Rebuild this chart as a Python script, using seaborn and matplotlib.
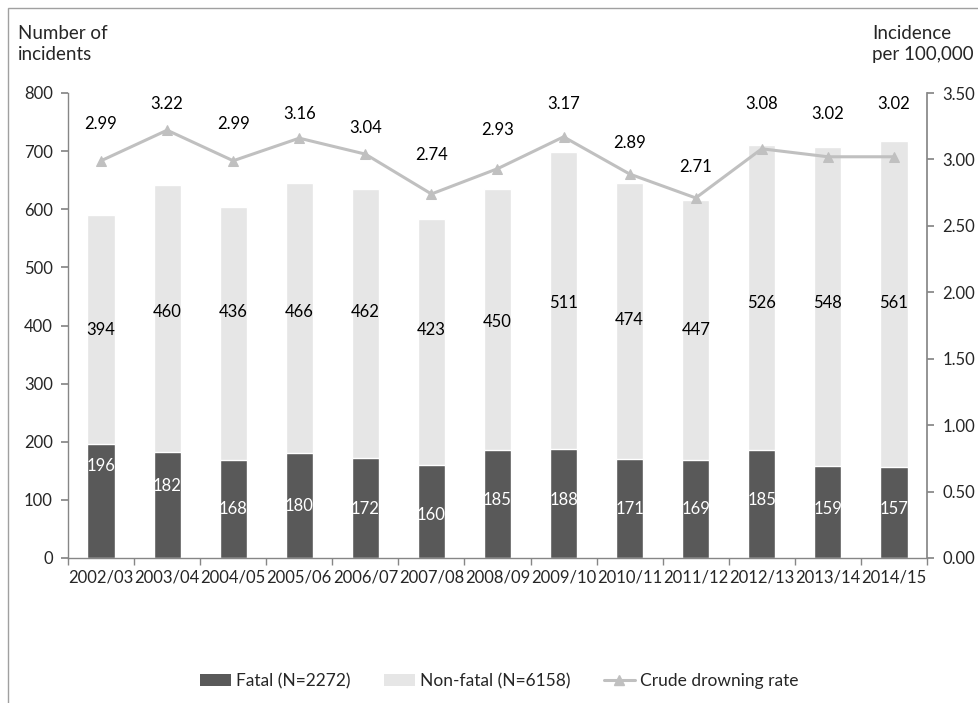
import matplotlib
matplotlib.use("Agg")
import matplotlib.pyplot as plt
import seaborn as sns
import pandas as pd
import numpy as np
from matplotlib.lines import Line2D
from matplotlib.patches import Patch, Rectangle

years = ["2002/03", "2003/04", "2004/05", "2005/06", "2006/07", "2007/08", "2008/09",
         "2009/10", "2010/11", "2011/12", "2012/13", "2013/14", "2014/15"]
fatal = [196, 182, 168, 180, 172, 160, 185, 188, 171, 169, 185, 159, 157]
nonfatal = [394, 460, 436, 466, 462, 423, 450, 511, 474, 447, 526, 548, 561]
rate = [2.99, 3.22, 2.99, 3.16, 3.04, 2.74, 2.93, 3.17, 2.89, 2.71, 3.08, 3.02, 3.02]

# label placement (layout only)
fatal_label_y = [158, 124, 84, 90, 84, 74, 100, 100, 84, 84, 100, 84, 84]
nonfatal_label_y = [392, 423, 423, 423, 423, 392, 406, 439, 410, 392, 439, 439, 439]
rate_label_y = [3.27, 3.42, 3.27, 3.34, 3.24, 3.03, 3.22, 3.42, 3.12, 2.94, 3.42, 3.34, 3.42]

DARK = "#595959"
LIGHT = "#e6e6e6"
LINE = "#c0c0c0"
AXC = "#868686"
FS = 12

sns.set_theme(style="white")
plt.rcParams["font.family"] = ["Lato", "DejaVu Sans"]

df = pd.DataFrame({"year": years, "fatal": fatal, "nonfatal": nonfatal, "rate": rate})
df["total"] = df["fatal"] + df["nonfatal"]
df["idx"] = np.arange(len(years))

fig = plt.figure(figsize=(9.79, 7.03), dpi=100)
ax = fig.add_axes([68 / 979, 1 - 558 / 703, (927 - 68) / 979, (558 - 93) / 703])

sns.barplot(data=df, x="year", y="total", color=LIGHT, width=0.41, ax=ax, saturation=1)
sns.barplot(data=df, x="year", y="fatal", color=DARK, width=0.41, ax=ax, saturation=1)

ax.set_xlim(-0.5, len(years) - 0.5)
ax.set_ylim(0, 800)
ax.set_yticks(range(0, 801, 100))
ax.set_xlabel("")
ax.set_ylabel("")
for s in ["top", "right"]:
    ax.spines[s].set_visible(False)
for s in ["left", "bottom"]:
    ax.spines[s].set_color(AXC)
    ax.spines[s].set_linewidth(1.0)
ax.tick_params(axis="y", which="major", left=True, length=5, color=AXC, labelsize=FS, pad=6)
ax.set_xticks(np.arange(-0.5, len(years), 1.0), minor=True)
ax.tick_params(axis="x", which="major", length=0, labelsize=FS, pad=8)
ax.tick_params(axis="x", which="minor", bottom=True, length=5, color=AXC)

for i in range(len(years)):
    ax.text(i, fatal_label_y[i], str(fatal[i]), ha="center", va="center", color="white", fontsize=FS)
    ax.text(i, nonfatal_label_y[i], str(nonfatal[i]), ha="center", va="center", color="black", fontsize=FS)

ax2 = ax.twinx()
sns.lineplot(data=df, x="idx", y="rate", color=LINE, marker="^", markersize=7,
             markeredgecolor=LINE, linewidth=2.2, ax=ax2)
ax2.set_xlim(-0.5, len(years) - 0.5)
ax2.set_ylim(0, 3.5)
ax2.set_yticks(np.arange(0, 3.51, 0.5))
ax2.set_yticklabels([f"{v:.2f}" for v in np.arange(0, 3.51, 0.5)])
ax2.set_xlabel("")
ax2.set_ylabel("")
for s in ["top", "left", "bottom"]:
    ax2.spines[s].set_visible(False)
ax2.spines["right"].set_color(AXC)
ax2.tick_params(axis="y", right=True, length=5, color=AXC, labelsize=FS, pad=6)
for i in range(len(years)):
    ax2.text(i, rate_label_y[i], f"{rate[i]:.2f}", ha="center", va="center", color="black", fontsize=FS)

fig.text(18 / 979, 1 - 44 / 703, "Number of\nincidents", ha="left", va="center", fontsize=13.5,
         linespacing=1.3, multialignment="left")
fig.text(872 / 979, 1 - 44 / 703, "Incidence\nper 100,000", ha="left", va="center", fontsize=13.5,
         linespacing=1.3, multialignment="left")

handles = [Patch(facecolor=DARK, edgecolor="none", label="Fatal (N=2272)"),
           Patch(facecolor=LIGHT, edgecolor="none", label="Non-fatal (N=6158)"),
           Line2D([0], [0], color=LINE, linewidth=2.2, marker="^", markersize=7, label="Crude drowning rate")]
fig.legend(handles=handles, loc="center", bbox_to_anchor=(0.51, 1 - 681 / 703), ncol=3, frameon=False,
           fontsize=FS + 0.5, handlelength=1.8, handleheight=0.7, handletextpad=0.3, columnspacing=1.9)

fig.patches.append(Rectangle((8 / 979, -0.1), 1.2, 1 - 8 / 703 + 0.1, transform=fig.transFigure,
                             fill=False, edgecolor="#a0a0a0", linewidth=1.0))

fig.savefig("out.png", dpi=100)
